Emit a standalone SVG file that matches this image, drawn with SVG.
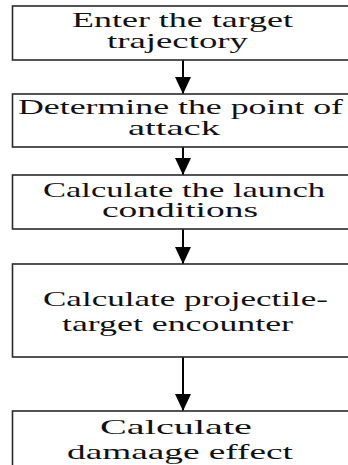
<svg xmlns="http://www.w3.org/2000/svg" width="348" height="465" viewBox="0 0 348 465">
  <style>
    .box { fill: #ffffff; stroke: #2a2a2a; stroke-width: 1.6; }
    .lbl { font-family: "Liberation Serif", "Times New Roman", serif; font-size: 22px; fill: #111111; }
    .link { stroke: #000000; stroke-width: 2; fill: none; }
  </style>
  <defs>
    <marker id="head" viewBox="0 0 17 16" refX="17" refY="8" markerWidth="17" markerHeight="16" markerUnits="userSpaceOnUse" orient="auto">
      <path d="M0,0 L17,8 L0,16 Z" fill="#000000"/>
    </marker>
  </defs>

  <rect width="348" height="465" fill="#ffffff"/>

  <g id="connectors">
    <line class="link" x1="183" y1="60" x2="183" y2="94" marker-end="url(#head)"/>
    <line class="link" x1="183" y1="147" x2="183" y2="175" marker-end="url(#head)"/>
    <line class="link" x1="183" y1="229" x2="183" y2="264" marker-end="url(#head)"/>
    <line class="link" x1="183" y1="357" x2="183" y2="411" marker-end="url(#head)"/>
  </g>

  <g id="enter-trajectory">
    <rect class="box" x="12.5" y="6" width="345" height="54"/>
    <text class="lbl" x="72" y="27" textLength="221" lengthAdjust="spacingAndGlyphs">Enter the target</text>
    <text class="lbl" x="107" y="48" textLength="141" lengthAdjust="spacingAndGlyphs">trajectory</text>
  </g>

  <g id="point-of-attack">
    <rect class="box" x="12.5" y="94" width="345" height="53"/>
    <text class="lbl" x="18" y="113.5" textLength="325" lengthAdjust="spacingAndGlyphs">Determine the point of</text>
    <text class="lbl" x="128" y="135" textLength="92" lengthAdjust="spacingAndGlyphs">attack</text>
  </g>

  <g id="launch-conditions">
    <rect class="box" x="12.5" y="175" width="345" height="54"/>
    <text class="lbl" x="43" y="196.5" textLength="282" lengthAdjust="spacingAndGlyphs">Calculate the launch</text>
    <text class="lbl" x="102" y="216.5" textLength="156" lengthAdjust="spacingAndGlyphs">conditions</text>
  </g>

  <g id="encounter">
    <rect class="box" x="12.5" y="264" width="345" height="93"/>
    <text class="lbl" x="43" y="305.5" textLength="285" lengthAdjust="spacingAndGlyphs">Calculate projectile-</text>
    <text class="lbl" x="62" y="330.5" textLength="231" lengthAdjust="spacingAndGlyphs">target encounter</text>
  </g>

  <g id="damage-effect">
    <rect class="box" x="12.5" y="411" width="345" height="70"/>
    <text class="lbl" x="100" y="434" textLength="152" lengthAdjust="spacingAndGlyphs">Calculate</text>
    <text class="lbl" x="67" y="459" textLength="226" lengthAdjust="spacingAndGlyphs">damaage effect</text>
  </g>
</svg>
